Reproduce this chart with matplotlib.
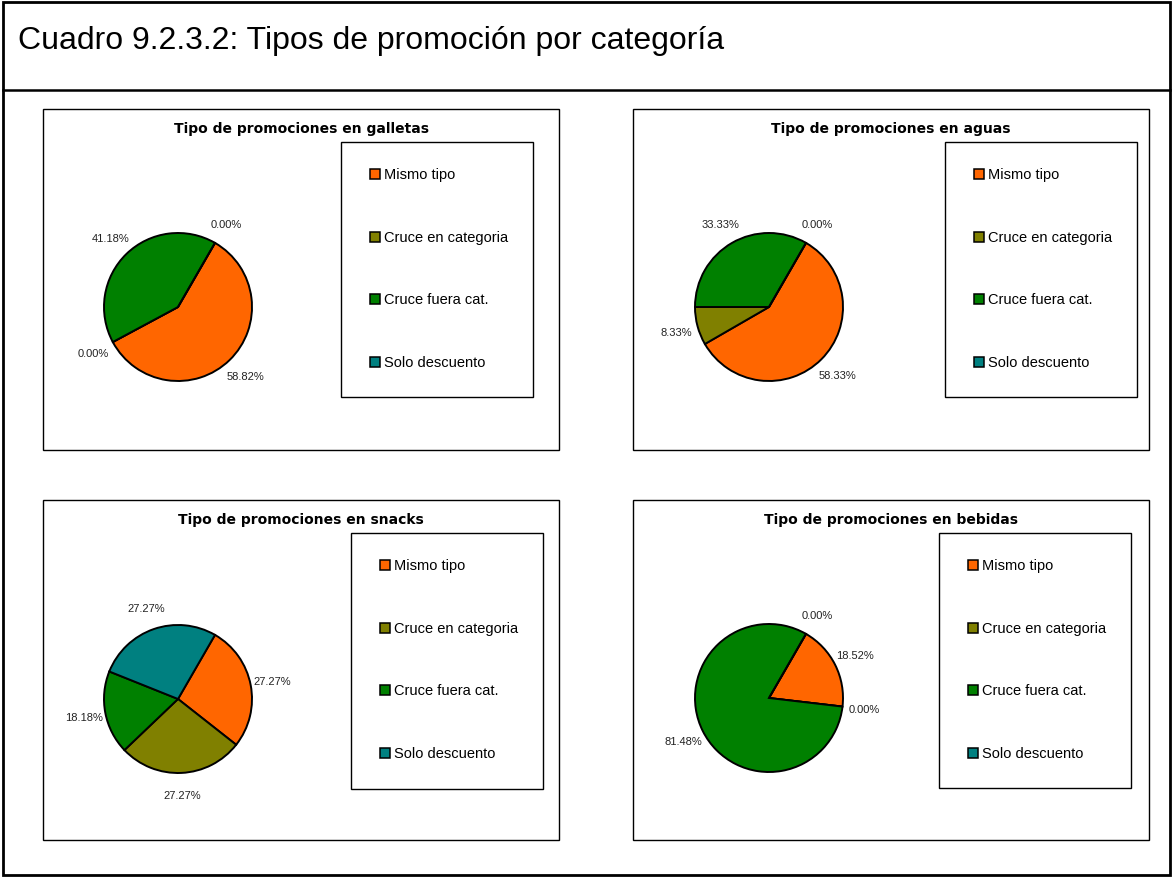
import matplotlib
matplotlib.use("Agg")
import matplotlib.pyplot as plt
from matplotlib.patches import Rectangle

plt.rcParams["font.family"] = ["Liberation Sans", "DejaVu Sans"]

# ── datos ─────────────────────────────────────────────────────────────
categorias = ["Mismo tipo", "Cruce en categoria", "Cruce fuera cat.", "Solo descuento"]
colores = ["#FF6600", "#808000", "#008000", "#008080"]

galletas = [58.82, 0.00, 41.18, 0.00]
aguas = [58.33, 8.33, 33.33, 0.00]
snacks = [27.27, 27.27, 18.18, 27.27]
bebidas = [18.52, 0.00, 81.48, 0.00]

titulo = "Cuadro 9.2.3.2: Tipos de promoción por categoría"

# ── layout en pixeles (x0, y0, x1, y1) ────────────────────────────────
W, H = 1173, 878
paneles = [
    ("Tipo de promociones en galletas", galletas, (43, 110, 559, 451), (341, 143, 533, 398), (178, 308)),
    ("Tipo de promociones en aguas", aguas, (633, 110, 1149, 451), (945, 143, 1137, 398), (769, 308)),
    ("Tipo de promociones en snacks", snacks, (43, 501, 559, 841), (351, 534, 543, 790), (178, 700)),
    ("Tipo de promociones en bebidas", bebidas, (633, 501, 1149, 841), (939, 534, 1131, 789), (769, 699)),
]
R = 74


def _rect(fig, x0, y0, x1, y1, lw=1.0):
    fig.patches.append(Rectangle((x0 / W, 1 - y1 / H), (x1 - x0) / W, (y1 - y0) / H,
                                 transform=fig.transFigure, fill=False,
                                 edgecolor="black", linewidth=lw))


def _panel(fig, nombre, valores, caja, leyenda, centro):
    _rect(fig, *caja)
    fig.text((caja[0] + caja[2]) / 2 / W, 1 - (caja[1] + 19) / H, nombre,
             ha="center", va="center", fontsize=10, fontweight="bold",
             family="DejaVu Sans")

    cx, cy = centro
    ax = fig.add_axes([(cx - R) / W, 1 - (cy + R) / H, 2 * R / W, 2 * R / H])
    _, textos = ax.pie(valores, colors=colores, startangle=60, counterclock=False,
                       labels=[f"{v:.2f}%" for v in valores], labeldistance=1.3,
                       wedgeprops=dict(edgecolor="black", linewidth=1.4),
                       textprops=dict(fontsize=8, color="#222222"))
    for t in textos:
        t.set_ha("center"); t.set_va("center")
    ax.set_xlim(-1, 1); ax.set_ylim(-1, 1)

    # leyenda manual
    _rect(fig, *leyenda)
    lx, ly = leyenda[0], leyenda[1]
    for i, (cat, col) in enumerate(zip(categorias, colores)):
        yc = ly + 32 + i * 62.7
        fig.patches.append(Rectangle(((lx + 29) / W, 1 - (yc + 5) / H), 10 / W, 10 / H,
                                     transform=fig.transFigure, facecolor=col,
                                     edgecolor="black", linewidth=1.1))
        fig.text((lx + 43) / W, 1 - yc / H, cat, ha="left", va="center", fontsize=10.5)


if __name__ == "__main__":
    fig = plt.figure(figsize=(W / 100, H / 100), dpi=100)
    _rect(fig, 3, 3, 1170, 876, lw=2.0)
    fig.add_artist(plt.Line2D([3 / W, 1170 / W], [1 - 91 / H, 1 - 91 / H],
                              transform=fig.transFigure, color="black", linewidth=1.8))
    fig.text(18 / W, 1 - 49 / H, titulo, ha="left", va="baseline", fontsize=23)

    for nombre, valores, caja, leyenda, centro in paneles:
        _panel(fig, nombre, valores, caja, leyenda, centro)

    fig.savefig("out.png", dpi=100)
    plt.close(fig)
